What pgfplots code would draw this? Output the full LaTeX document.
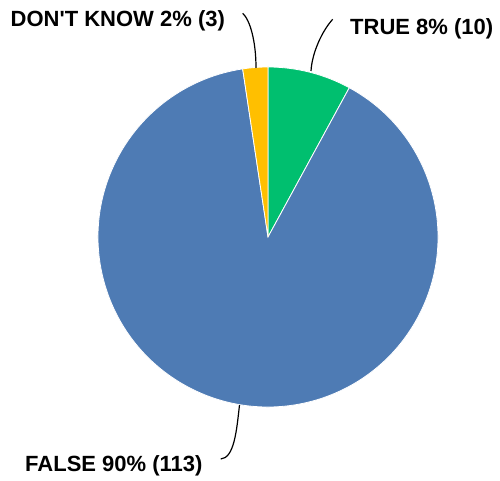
\documentclass[border=0pt]{standalone}
\usepackage{pgfplots}
\pgfplotsset{compat=1.18}
\usepackage{fontspec}
\setmainfont{Liberation Sans}
\definecolor{cTrue}{HTML}{00BF6F}
\definecolor{cFalse}{HTML}{4E7BB4}
\definecolor{cDK}{HTML}{FFBF00}
\begin{document}
\begin{tikzpicture}
\begin{axis}[scale only axis, width=500pt, height=481pt,
  xmin=0, xmax=500, ymin=0, ymax=481, hide axis, clip=false]
% data: TRUE 10, FALSE 113, DON'T KNOW 3
\pgfmathsetmacro{\vT}{10}
\pgfmathsetmacro{\vF}{113}
\pgfmathsetmacro{\vD}{3}
\pgfmathsetmacro{\tot}{\vT+\vF+\vD}
\pgfmathsetmacro{\aA}{90}
\pgfmathsetmacro{\aB}{\aA-360*(\vT/\tot)}
\pgfmathsetmacro{\aC}{\aB-360*(\vF/\tot)}
\pgfmathsetmacro{\aD}{\aC-360*(\vD/\tot)}
\def\cx{268}\def\cy{244}\def\rr{170}
\fill[cTrue, draw=white, line width=0.8pt] (axis cs:\cx,\cy) -- (axis cs:{\cx+\rr*cos(\aA)},{\cy+\rr*sin(\aA)}) arc[start angle=\aA, end angle=\aB, radius=170pt] -- cycle;
\fill[cFalse, draw=white, line width=0.8pt] (axis cs:\cx,\cy) -- (axis cs:{\cx+\rr*cos(\aB)},{\cy+\rr*sin(\aB)}) arc[start angle=\aB, end angle=\aC, radius=170pt] -- cycle;
\fill[cDK, draw=white, line width=0.8pt] (axis cs:\cx,\cy) -- (axis cs:{\cx+\rr*cos(\aC)},{\cy+\rr*sin(\aC)}) arc[start angle=\aC, end angle=\aD, radius=170pt] -- cycle;
% leader lines
\draw[black, line width=1.2pt] (axis cs:332.7,461.7) .. controls (axis cs:322,450) and (axis cs:312,428) .. (axis cs:311,410);
\draw[black, line width=1.2pt] (axis cs:242.7,467.7) .. controls (axis cs:250,461) and (axis cs:256,440) .. (axis cs:256,413);
\draw[black, line width=1.2pt] (axis cs:239.5,76) .. controls (axis cs:236.5,49) and (axis cs:234,23) .. (axis cs:220.7,22);
% labels
\node[anchor=base west, inner sep=0pt, font=\bfseries\fontsize{22}{26}\selectfont] at (axis cs:350,446.7) {TRUE 8\% (10)};
\node[anchor=base west, inner sep=0pt, font=\bfseries\fontsize{22}{26}\selectfont] at (axis cs:10.5,454.3) {DON\textquotesingle T KNOW 2\% (3)};
\node[anchor=base west, inner sep=0pt, font=\bfseries\fontsize{22}{26}\selectfont] at (axis cs:25,9.3) {FALSE 90\% (113)};
\end{axis}
\path (0,0) rectangle (500pt,481pt);
\end{tikzpicture}
\end{document}
